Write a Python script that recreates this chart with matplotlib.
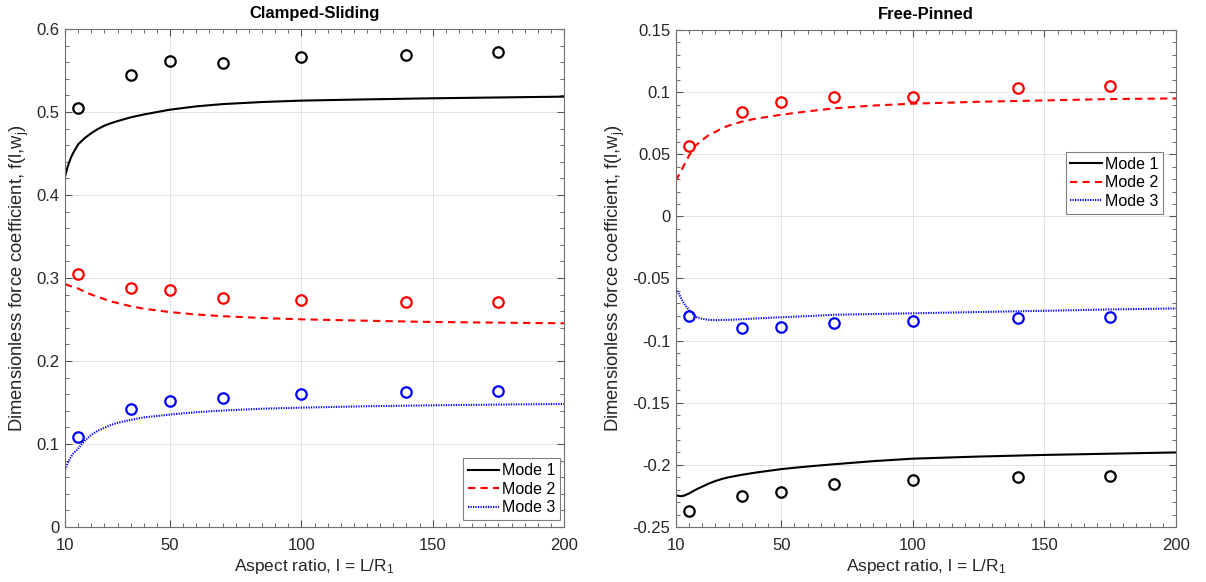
import numpy as np
import matplotlib
matplotlib.use("Agg")
import matplotlib.pyplot as plt
from matplotlib.ticker import MultipleLocator, FuncFormatter

plt.rcParams['font.family'] = ['Liberation Sans', 'DejaVu Sans']

# ---------------- data ----------------
exp_x = [15, 35, 50, 70, 100, 140, 175]

# Clamped-Sliding: experimental points
cs_mode1_pts = [0.505, 0.545, 0.561, 0.559, 0.566, 0.569, 0.572]
cs_mode2_pts = [0.305, 0.288, 0.285, 0.276, 0.274, 0.271, 0.271]
cs_mode3_pts = [0.109, 0.142, 0.152, 0.155, 0.160, 0.163, 0.164]

# Free-Pinned: experimental points
fp_mode1_pts = [-0.237, -0.225, -0.222, -0.215, -0.212, -0.210, -0.209]
fp_mode2_pts = [0.057, 0.084, 0.092, 0.096, 0.096, 0.103, 0.105]
fp_mode3_pts = [-0.080, -0.090, -0.089, -0.086, -0.084, -0.082, -0.081]

# theory curves
curve_x = [10, 11, 12, 13, 15, 17.5, 20, 22.5, 25, 27.5, 30, 35, 40, 50,
           60, 70, 85, 100, 125, 150, 175, 200]

cs_mode1_curve = [0.422, 0.434, 0.443, 0.450, 0.461, 0.4685, 0.4745, 0.4795, 0.4835,
                  0.4865, 0.4890, 0.4935, 0.4970, 0.5028, 0.5068, 0.5095, 0.5120,
                  0.5137, 0.5152, 0.5165, 0.5175, 0.5185]
cs_mode2_curve = [0.2927, 0.2915, 0.2903, 0.2893, 0.2873, 0.2835, 0.2800, 0.2773,
                  0.2745, 0.2718, 0.2698, 0.2660, 0.2630, 0.2589, 0.2560, 0.2540,
                  0.2518, 0.2502, 0.2485, 0.2470, 0.2462, 0.2454]
cs_mode3_curve = [0.069, 0.077, 0.083, 0.088, 0.0945, 0.104, 0.111, 0.116, 0.1195,
                  0.1230, 0.1255, 0.1290, 0.1320, 0.1355, 0.1383, 0.1403, 0.1425,
                  0.1438, 0.1455, 0.1466, 0.1475, 0.1482]

fp_mode1_curve = [-0.2243, -0.2250, -0.2252, -0.2248, -0.2230, -0.2200, -0.2175,
                  -0.2150, -0.2130, -0.2113, -0.2100, -0.2080, -0.2063, -0.2034,
                  -0.2013, -0.1995, -0.1970, -0.1950, -0.1933, -0.1920, -0.1910,
                  -0.1900]
fp_mode2_curve = [0.0286, 0.033, 0.0366, 0.041, 0.049, 0.057, 0.0615, 0.0655, 0.068,
                  0.071, 0.0730, 0.0762, 0.0785, 0.0818, 0.0845, 0.0869, 0.0892,
                  0.0907, 0.0922, 0.0933, 0.0944, 0.0949]
fp_mode3_curve = [-0.0582, -0.062, -0.066, -0.070, -0.0755, -0.0808, -0.0825,
                  -0.0833, -0.0835, -0.0834, -0.0833, -0.0828, -0.0822, -0.0812,
                  -0.0803, -0.0792, -0.0786, -0.0780, -0.0770, -0.0760, -0.0749,
                  -0.0741]

mode_labels = ['Mode 1', 'Mode 2', 'Mode 3']
x_ticks = [10, 50, 100, 150, 200]
titles = ['Clamped-Sliding', 'Free-Pinned']

# ---------------- figure ----------------
fig = plt.figure(figsize=(12.06, 5.82), dpi=100)
ax1 = fig.add_axes([0.0539, 0.0945, 0.4138, 0.8557])
ax2 = fig.add_axes([0.5605, 0.0945, 0.4146, 0.8540])

colors = ['black', '#FF0000', '#0000FF']
styles = ['-', (0, (3.5, 2.5)), (0, (0.6, 0.6))]

fmt = FuncFormatter(lambda v, pos: '%g' % round(v, 6) if abs(v) > 1e-9 else '0')

def draw(ax, curves, pts, ylim, ymaj, ymin, title):
    for c, col, ls, lab in zip(curves, colors, styles, mode_labels):
        ax.plot(curve_x, c, color=col, linestyle=ls, linewidth=1.5, label=lab)
    for p, col in zip(pts, colors):
        ax.plot(exp_x, p, linestyle='none', marker='o', markersize=7.5,
                markerfacecolor='none', markeredgecolor=col, markeredgewidth=1.6)
    ax.set_xlim(10, 200)
    ax.set_ylim(*ylim)
    ax.set_xticks(x_ticks)
    ax.xaxis.set_minor_locator(MultipleLocator(5))
    ax.yaxis.set_major_locator(MultipleLocator(ymaj))
    ax.yaxis.set_minor_locator(MultipleLocator(ymin))
    ax.yaxis.set_major_formatter(fmt)
    ax.grid(True, which='major', color='#e3e3e3', linewidth=0.7)
    ax.set_axisbelow(True)
    ax.tick_params(which='both', direction='in', top=True, right=True,
                   colors='#555555', labelcolor='#262626', labelsize=12)
    ax.tick_params(axis='x', which='major', pad=8)
    ax.tick_params(axis='y', which='major', pad=4)
    ax.tick_params(which='major', length=5)
    ax.tick_params(which='minor', length=3)
    for s in ax.spines.values():
        s.set_color('#707070')
        s.set_linewidth(0.8)
    ax.set_title(title, fontsize=12, fontweight='bold', pad=8)
    ax.set_xlabel('Aspect ratio, l = L/R$\\mathregular{_1}$', fontsize=12.5,
                  color='#262626', labelpad=3)
    ax.set_ylabel('Dimensionless force coefficient, f(l,w$\\mathregular{_j}$)',
                  fontsize=13.2, color='#262626', labelpad=4)

draw(ax1, [cs_mode1_curve, cs_mode2_curve, cs_mode3_curve],
     [cs_mode1_pts, cs_mode2_pts, cs_mode3_pts], (0, 0.6), 0.1, 0.02, titles[0])
draw(ax2, [fp_mode1_curve, fp_mode2_curve, fp_mode3_curve],
     [fp_mode1_pts, fp_mode2_pts, fp_mode3_pts], (-0.25, 0.15), 0.05, 0.01, titles[1])

leg1 = ax1.legend(loc='lower right', bbox_to_anchor=(0.992, 0.014), fontsize=11.5,
                  handlelength=2.0, handletextpad=0.15, borderpad=0.3,
                  labelspacing=0.22, borderaxespad=0, fancybox=False,
                  framealpha=1, edgecolor='#808080')
leg2 = ax2.legend(loc='upper right', bbox_to_anchor=(0.974, 0.7545), fontsize=11.5,
                  handlelength=2.0, handletextpad=0.15, borderpad=0.3,
                  labelspacing=0.22, borderaxespad=0, fancybox=False,
                  framealpha=1, edgecolor='#808080')
for leg in (leg1, leg2):
    leg.get_frame().set_linewidth(0.8)

fig.savefig('out.png', dpi=100)
